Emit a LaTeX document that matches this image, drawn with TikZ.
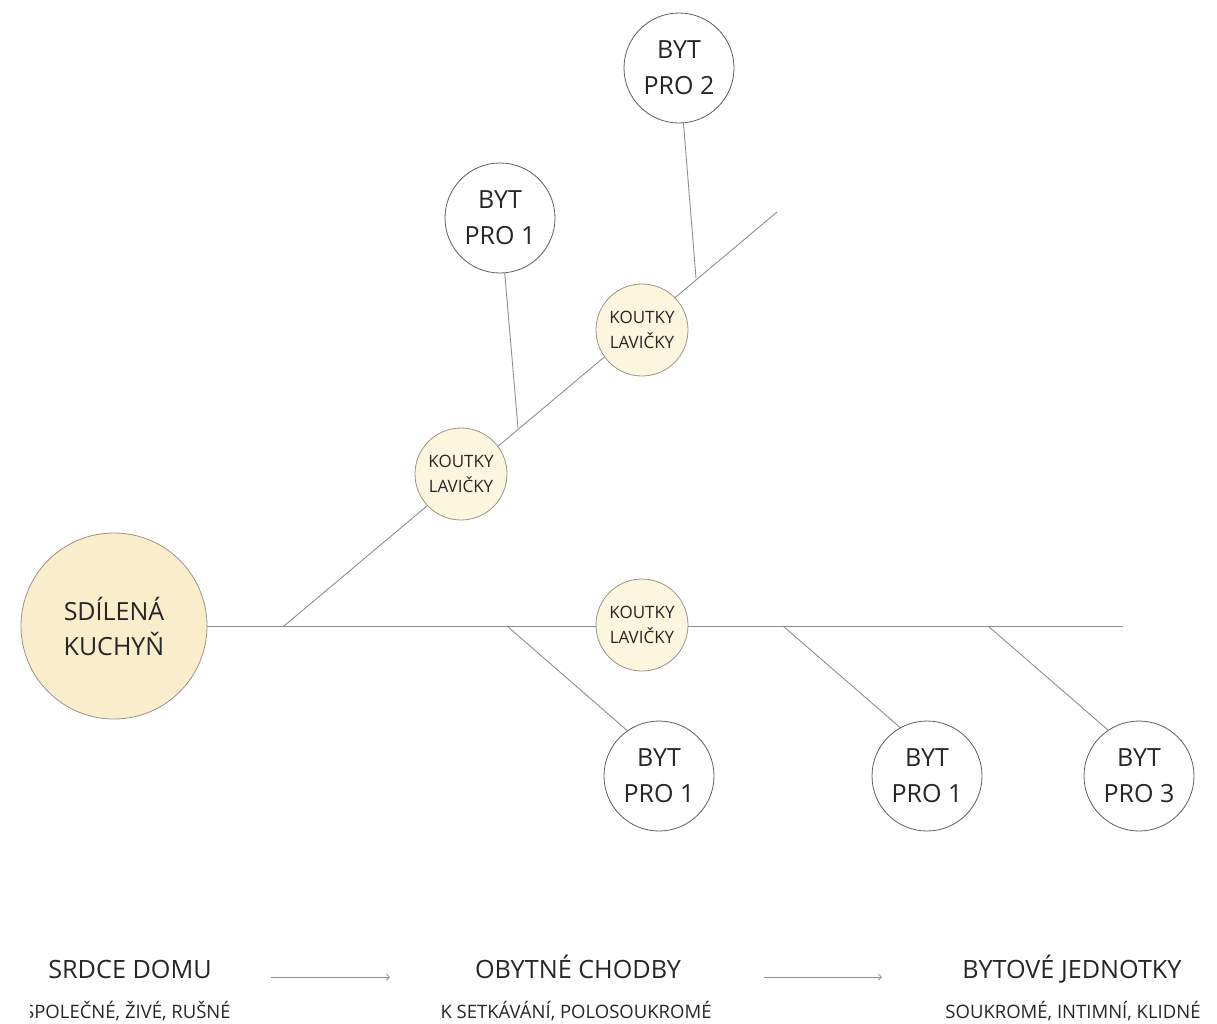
\documentclass[tikz,border=0pt]{standalone}
\usepackage{fontspec}
\setmainfont{Open Sans}
\usetikzlibrary{arrows.meta,backgrounds}
\definecolor{txt}{HTML}{262626}
\definecolor{ln}{HTML}{8E8E8E}
\definecolor{cbord}{HTML}{5E5E5E}
\definecolor{bigfill}{HTML}{FAEDCB}
\definecolor{smallfill}{HTML}{FCF6DE}
\definecolor{bigbord}{HTML}{9C9484}
\begin{document}
\begin{tikzpicture}[x=1pt,y=-1pt,
  conn/.style={draw=ln,line width=0.9pt},
  arr/.style={draw=ln,line width=0.8pt,-{Straight Barb[length=3pt,width=6pt]}},
  byt/.style={circle,draw=cbord,line width=0.8pt,fill=white,minimum size=110pt,inner sep=0pt,align=center,text=txt,font=\fontsize{25}{36}\selectfont},
  kout/.style={circle,draw=bigbord,line width=0.8pt,fill=smallfill,minimum size=92pt,inner sep=0pt,align=center,text=txt,font=\fontsize{17}{25}\selectfont},
  kitchen/.style={circle,draw=bigbord,line width=0.8pt,fill=bigfill,minimum size=186pt,inner sep=0pt,align=center,text=txt,font=\fontsize{25}{35}\selectfont},
  title/.style={text=txt,inner sep=0pt,anchor=base,font=\fontsize{25.2}{30}\selectfont},
  sub/.style={text=txt,inner sep=0pt,anchor=base,font=\fontsize{18.5}{22}\selectfont}]
\useasboundingbox (0,0) rectangle (1217,1023);
% main nodes
\node[kitchen] (kuch) at (114,626) {SDÍLENÁ\\KUCHYŇ};
\node[kout] (k1) at (461,474) {KOUTKY\\LAVIČKY};
\node[kout] (k2) at (642,330) {KOUTKY\\LAVIČKY};
\node[kout] (k3) at (642,625) {KOUTKY\\LAVIČKY};
\node[byt] (b1) at (500,218) {BYT\\PRO 1};
\node[byt] (b2) at (679,68) {BYT\\PRO 2};
\node[byt] (b3) at (659,776) {BYT\\PRO 1};
\node[byt] (b4) at (927,776) {BYT\\PRO 1};
\node[byt] (b5) at (1139,776) {BYT\\PRO 3};
% junctions
\coordinate (m0) at (284,626);
\coordinate (mEnd) at (1123,626);
\coordinate (dEnd) at (777,212);
\coordinate (j1) at (518,428);
\coordinate (j2) at (696,278);
\coordinate (jb1) at (507,626);
\coordinate (jb2) at (783,626);
\coordinate (jb3) at (988,626);
\begin{pgfonlayer}{background}
\draw[conn] (kuch) -- (mEnd);
\draw[conn] (m0) -- (dEnd);
\draw[conn] (j1) -- (b1);
\draw[conn] (j2) -- (b2);
\draw[conn] (jb1) -- (b3.125);
\draw[conn] (jb2) -- (b4.119);
\draw[conn] (jb3) -- (b5.124);
\end{pgfonlayer}
% bottom legend
\node[title] (t1) at (130,978) {SRDCE DOMU};
\node[title] (t2) at (578,978) {OBYTNÉ CHODBY};
\node[title] (t3) at (1072,978) {BYTOVÉ JEDNOTKY};
\begin{scope}
\clip (30,990) rectangle (300,1023);
\node[sub,anchor=base west] (s1) at (24,1018) {SPOLEČNÉ, ŽIVÉ, RUŠNÉ};
\end{scope}
\node[sub] (s2) at (576,1018) {K SETKÁVÁNÍ, POLOSOUKROMÉ};
\node[sub] (s3) at (1073,1018) {SOUKROMÉ, INTIMNÍ, KLIDNÉ};
\coordinate (a1s) at (271,977);
\coordinate (a1e) at (390,977);
\coordinate (a2s) at (764,977);
\coordinate (a2e) at (882,977);
\draw[arr] (a1s) -- (a1e);
\draw[arr] (a2s) -- (a2e);
\end{tikzpicture}
\end{document}
